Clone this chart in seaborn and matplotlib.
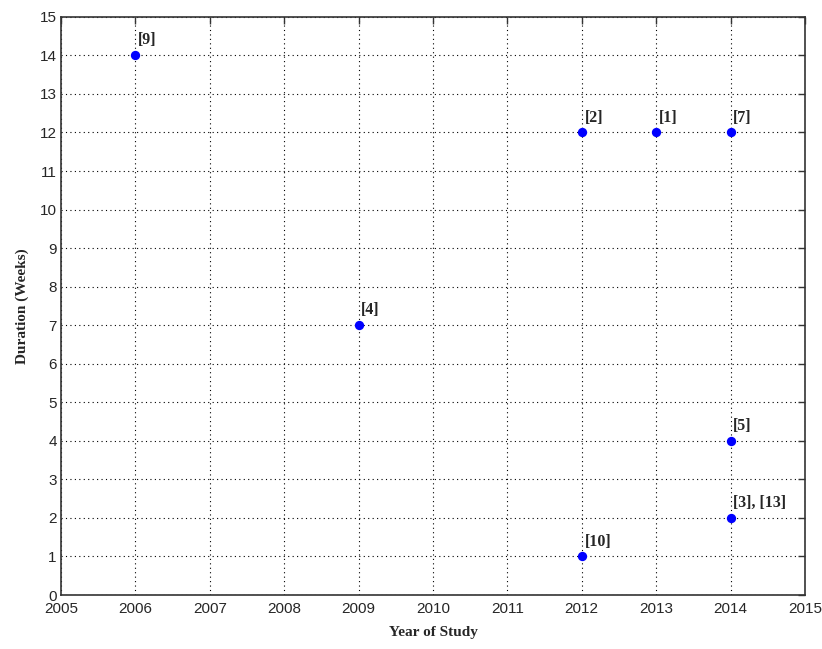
import pandas as pd
import seaborn as sns
import matplotlib.pyplot as plt

# values
years = [2006, 2009, 2012, 2013, 2014, 2014, 2014, 2012]
weeks = [14, 7, 12, 12, 12, 4, 2, 1]
refs = ["[9]", "[4]", "[2]", "[1]", "[7]", "[5]", "[3], [13]", "[10]"]
x_ticks = list(range(2005, 2016))
y_ticks = list(range(0, 16))

df = pd.DataFrame({"Year": years, "Weeks": weeks, "Ref": refs})

sns.set_style("white")
plt.rcParams['font.family'] = ['Liberation Sans', 'DejaVu Sans']

fig = plt.figure(figsize=(8.22, 6.49), dpi=100)
ax = fig.add_axes([0.0742, 0.0832, 0.905, 0.8908])

sns.scatterplot(data=df, x="Year", y="Weeks", color="#0000ff", s=45,
                edgecolor="#0000ff", linewidth=0, ax=ax, zorder=3)

for _, row in df.iterrows():
    ax.annotate(row["Ref"], (row["Year"], row["Weeks"]), xytext=(2, 5),
                textcoords="offset points", fontsize=11.5, fontweight="bold",
                family="Liberation Serif", ha="left", va="bottom")

ax.set_xlim(2005, 2015)
ax.set_ylim(0, 15)
ax.set_xticks(x_ticks)
ax.set_yticks(y_ticks)
ax.grid(True, color="black", linestyle=(0, (1, 3)), linewidth=0.8)
ax.tick_params(direction="in", top=True, right=True, length=5, width=1,
               labelsize=11, color="#333333", pad=3)
ax.tick_params(axis="x", pad=5)
for sp in ax.spines.values():
    sp.set_color("#333333")
    sp.set_linewidth(1.2)

ax.set_xlabel("Year of Study", fontsize=11, fontweight="bold",
              family="Liberation Serif", labelpad=7)
ax.set_ylabel("Duration (Weeks)", fontsize=11, fontweight="bold",
              family="Liberation Serif", labelpad=8)

fig.savefig("out.png", dpi=100)
